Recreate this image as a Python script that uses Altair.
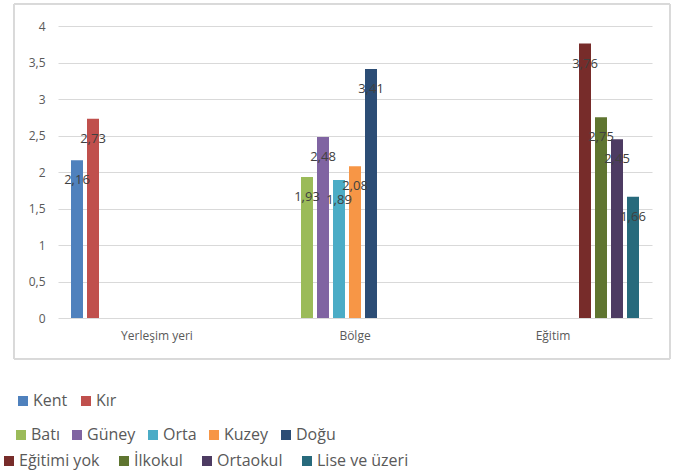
import altair as alt
import pandas as pd

# Categories and series
groups = ["Yerleşim yeri", "Bölge", "Eğitim"]

place_series = ["Kent", "Kır"]
place_values = [2.16, 2.73]
place_colors = ["#4F81BD", "#C0504D"]

region_series = ["Batı", "Güney", "Orta", "Kuzey", "Doğu"]
region_values = [1.93, 2.48, 1.89, 2.08, 3.41]
region_colors = ["#9BBB59", "#8064A2", "#4BACC6", "#F79646", "#2C4D75"]

edu_series = ["Eğitimi yok", "İlkokul", "Ortaokul", "Lise ve üzeri"]
edu_values = [3.76, 2.75, 2.45, 1.66]
edu_colors = ["#772C2A", "#5F7530", "#4D3B62", "#276A7C"]

y_ticks = [0, 0.5, 1, 1.5, 2, 2.5, 3, 3.5, 4]

all_series = place_series + region_series + edu_series

rows = []
for g, names, vals in [
    (groups[0], place_series, place_values),
    (groups[1], region_series, region_values),
    (groups[2], edu_series, edu_values),
]:
    for n, v in zip(names, vals):
        rows.append({"grup": g, "seri": n, "deger": v})
df = pd.DataFrame(rows)

W, H = 594, 292
FONT = "Open Sans"
GRAY = "#595959"

base = alt.Chart(df).encode(
    x=alt.X(
        "grup:N",
        sort=groups,
        scale=alt.Scale(paddingInner=0, paddingOuter=0),
        axis=alt.Axis(
            title=None, domain=False, ticks=False, labelAngle=0,
            labelPadding=12, labelFontSize=12, labelColor=GRAY, labelFont=FONT,
        ),
    ),
    xOffset=alt.XOffset(
        "seri:N",
        sort=all_series,
        scale=alt.Scale(domain=all_series, paddingInner=0.25, paddingOuter=0.8125),
    ),
    y=alt.Y(
        "deger:Q",
        scale=alt.Scale(domain=[0, 4], nice=False),
        axis=alt.Axis(
            title=None, domain=False, ticks=False, values=y_ticks,
            labelExpr="replace(toString(datum.value), '.', ',')",
            labelPadding=13, labelFontSize=12, labelColor=GRAY, labelFont=FONT,
            gridColor="#D9D9D9", gridWidth=1,
        ),
    ),
)


def bar_layer(names, colors, lx, ly, gap):
    return base.transform_filter(
        alt.FieldOneOfPredicate(field="seri", oneOf=names)
    ).mark_bar().encode(
        color=alt.Color(
            "seri:N",
            sort=names,
            scale=alt.Scale(domain=names, range=colors),
            legend=alt.Legend(
                title=None, orient="none", legendX=lx, legendY=ly,
                direction="horizontal", symbolType="square", symbolSize=100,
                symbolStrokeWidth=0, labelFontSize=16, labelColor=GRAY,
                labelFont=FONT, columnPadding=gap, labelOffset=2,
            ),
        )
    )


bars_place = bar_layer(place_series, place_colors, -43, 367, 10)
bars_region = bar_layer(region_series, region_colors, -45, 401, 9)
bars_edu = bar_layer(edu_series, edu_colors, -57, 427, 16)

labels = base.transform_calculate(
    etiket="replace(format(datum.deger, '.2f'), '.', ',')"
).mark_text(
    baseline="middle", align="center", dy=20, fontSize=13, color="#404040", font=FONT
).encode(text="etiket:N")

# light border around the chart body
frame = alt.Chart(df).mark_rect(
    fill=None, stroke="#D9D9D9", strokeWidth=1
).encode(
    x=alt.value(-44), x2=alt.value(612), y=alt.value(-22), y2=alt.value(333)
)

chart = alt.layer(
    frame, bars_place, bars_region, bars_edu, labels
).resolve_scale(
    color="independent"
).properties(
    width=W, height=H,
    autosize=alt.AutoSizeParams(type="none"),
    padding={"left": 58, "top": 26, "right": 25, "bottom": 157},
    background="white",
).configure_view(stroke=None)

chart.save("out.html", embed_options={"renderer": "svg", "actions": False})
